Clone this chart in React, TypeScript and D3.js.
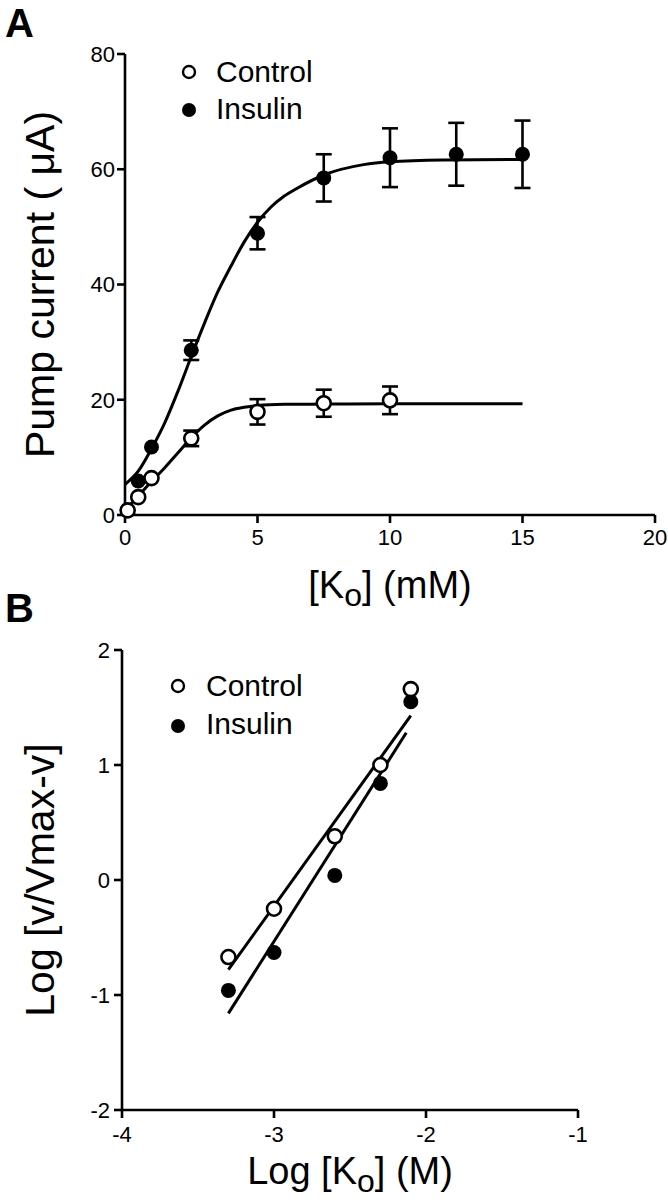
import React from "react";
import * as d3 from "d3";

// ---------- Panel A data ----------
const ctrlK = [0.1, 0.5, 1, 2.5, 5, 7.5, 10];
const ctrlI = [0.8, 3.1, 6.4, 13.3, 17.9, 19.4, 19.9];
const ctrlErr = [0, 0, 0, 1.35, 2.2, 2.35, 2.4];

const insK = [0.5, 1, 2.5, 5, 7.5, 10, 12.5, 15];
const insI = [5.9, 11.8, 28.6, 48.9, 58.5, 62.0, 62.6, 62.6];
const insErr = [0, 0, 1.7, 2.8, 4.1, 5.1, 5.45, 5.85];

// fitted curves
const ctrlFitK = [0, 0.5, 1, 1.5, 2, 2.5, 3, 3.5, 4, 4.5, 5, 6, 7.5, 10, 15];
const ctrlFitI = [0.8, 3.3, 5.8, 8.2, 10.8, 13.4, 15.6, 17.2, 18.2, 18.7, 19.0, 19.2, 19.25, 19.3, 19.3];
const insFitK = [0, 0.5, 1, 1.5, 2, 2.5, 3, 3.5, 4, 4.5, 5, 5.5, 6, 6.5, 7.5, 9, 10, 12, 15];
const insFitI = [5.3, 7.6, 11.5, 16, 21.5, 27.5, 33.3, 38.7, 43.2, 47.4, 50.8, 53.4, 55.3, 56.7, 59.0, 60.8, 61.3, 61.6, 61.7];

const xTicksA = [0, 5, 10, 15, 20];
const yTicksA = [0, 20, 40, 60, 80];

// ---------- Panel B data ----------
const logK = [-3.3, -3.0, -2.6, -2.3, -2.1];
const ctrlLog = [-0.67, -0.25, 0.38, 1.0, 1.66];
const insLog = [-0.96, -0.63, 0.04, 0.84, 1.55];
const ctrlLineX = [-3.3, -2.1];
const ctrlLineY = [-0.78, 1.43];
const insLineX = [-3.3, -2.13];
const insLineY = [-1.16, 1.28];

const xTicksB = [-4, -3, -2, -1];
const yTicksB = [-2, -1, 0, 1, 2];

const FONT = "'Liberation Sans', Arial, Helvetica, sans-serif";
const SW = 2.6;
const R = 7;

export default function App() {
  const xA = d3.scaleLinear().domain([0, 20]).range([125, 655]);
  const yA = d3.scaleLinear().domain([0, 80]).range([515, 54]);
  const xB = d3.scaleLinear().domain([-4, -1]).range([122, 578]);
  const yB = d3.scaleLinear().domain([-2, 2]).range([1110, 650]);

  const lineA = d3
    .line<[number, number]>()
    .x((d) => xA(d[0]))
    .y((d) => yA(d[1]))
    .curve(d3.curveMonotoneX);
  const lineB = d3
    .line<[number, number]>()
    .x((d) => xB(d[0]))
    .y((d) => yB(d[1]));

  const ctrlFit = ctrlFitK.map((k, i) => [k, ctrlFitI[i]] as [number, number]);
  const insFit = insFitK.map((k, i) => [k, insFitI[i]] as [number, number]);

  const errBars = (ks: number[], vs: number[], es: number[], key: string) =>
    ks.map((k, i) =>
      es[i] > 0 ? (
        <g key={key + i} stroke="#000" strokeWidth={SW}>
          <line x1={xA(k)} x2={xA(k)} y1={yA(vs[i] - es[i])} y2={yA(vs[i] + es[i])} />
          <line x1={xA(k) - 8} x2={xA(k) + 8} y1={yA(vs[i] - es[i])} y2={yA(vs[i] - es[i])} />
          <line x1={xA(k) - 8} x2={xA(k) + 8} y1={yA(vs[i] + es[i])} y2={yA(vs[i] + es[i])} />
        </g>
      ) : null
    );

  return (
    <svg
      width={668}
      height={1200}
      style={{ position: "absolute", left: 0, top: 0, background: "#fff" }}
      fontFamily={FONT}
    >
      <rect width={668} height={1200} fill="#fff" />
      {/* ===== Panel A ===== */}
      <text x={5} y={37} fontSize={40} fontWeight="bold">A</text>
      <line x1={125} x2={125} y1={yA(80)} y2={yA(0)} stroke="#000" strokeWidth={SW} />
      <line x1={125} x2={xA(20)} y1={yA(0)} y2={yA(0)} stroke="#000" strokeWidth={SW} />
      {yTicksA.map((t) => (
        <g key={"ya" + t}>
          <line x1={117} x2={125} y1={yA(t)} y2={yA(t)} stroke="#000" strokeWidth={SW} />
          <text x={115} y={yA(t)} dy="0.36em" textAnchor="end" fontSize={22}>{t}</text>
        </g>
      ))}
      {xTicksA.map((t) => (
        <g key={"xa" + t}>
          <line x1={xA(t)} x2={xA(t)} y1={yA(0)} y2={yA(0) + 8} stroke="#000" strokeWidth={SW} />
          <text x={xA(t)} y={545} textAnchor="middle" fontSize={22}>{t}</text>
        </g>
      ))}
      <text
        transform={`translate(54, ${(yA(0) + yA(80)) / 2}) rotate(-90)`}
        textAnchor="middle"
        fontSize={41}
      >
        Pump current ( μA)
      </text>
      <text x={390} y={598} textAnchor="middle" fontSize={38}>
        [K<tspan dy={8} fontSize={32}>o</tspan><tspan dy={-8}>] (mM)</tspan>
      </text>

      {/* curves */}
      <path d={lineA(insFit) || ""} fill="none" stroke="#000" strokeWidth={3} />
      <path d={lineA(ctrlFit) || ""} fill="none" stroke="#000" strokeWidth={3} />
      {errBars(insK, insI, insErr, "ie")}
      {errBars(ctrlK, ctrlI, ctrlErr, "ce")}
      {insK.map((k, i) => (
        <circle key={"ip" + i} cx={xA(k)} cy={yA(insI[i])} r={R + 0.5} fill="#000" />
      ))}
      {ctrlK.map((k, i) => (
        <circle key={"cp" + i} cx={xA(k)} cy={yA(ctrlI[i])} r={R} fill="#fff" stroke="#000" strokeWidth={SW} />
      ))}
      {/* legend */}
      <circle cx={189} cy={72} r={6} fill="#fff" stroke="#000" strokeWidth={2.4} />
      <text x={216} y={82} fontSize={30}>Control</text>
      <circle cx={189} cy={110} r={7} fill="#000" />
      <text x={216} y={119} fontSize={30}>Insulin</text>

      {/* ===== Panel B ===== */}
      <text x={5} y={622} fontSize={40} fontWeight="bold">B</text>
      <line x1={122} x2={122} y1={yB(2)} y2={yB(-2)} stroke="#000" strokeWidth={SW} />
      <line x1={122} x2={xB(-1)} y1={yB(-2)} y2={yB(-2)} stroke="#000" strokeWidth={SW} />
      {yTicksB.map((t) => (
        <g key={"yb" + t}>
          <line x1={114} x2={122} y1={yB(t)} y2={yB(t)} stroke="#000" strokeWidth={SW} />
          <text x={110} y={yB(t)} dy="0.36em" textAnchor="end" fontSize={22}>{t}</text>
        </g>
      ))}
      {xTicksB.map((t) => (
        <g key={"xb" + t}>
          <line x1={xB(t)} x2={xB(t)} y1={yB(-2)} y2={yB(-2) + 8} stroke="#000" strokeWidth={SW} />
          <text x={xB(t)} y={1142} textAnchor="middle" fontSize={22}>{t}</text>
        </g>
      ))}
      <text
        transform={`translate(54, ${(yB(2) + yB(-2)) / 2}) rotate(-90)`}
        textAnchor="middle"
        fontSize={41}
      >
        Log [v/Vmax-v]
      </text>
      <text x={350} y={1184} textAnchor="middle" fontSize={38}>
        Log [K<tspan dy={8} fontSize={32}>o</tspan><tspan dy={-8}>] (M)</tspan>
      </text>

      <path
        d={lineB(ctrlLineX.map((x, i) => [x, ctrlLineY[i]] as [number, number])) || ""}
        fill="none"
        stroke="#000"
        strokeWidth={3}
      />
      <path
        d={lineB(insLineX.map((x, i) => [x, insLineY[i]] as [number, number])) || ""}
        fill="none"
        stroke="#000"
        strokeWidth={3}
      />
      {logK.map((k, i) => (
        <circle key={"bi" + i} cx={xB(k)} cy={yB(insLog[i])} r={R + 0.5} fill="#000" />
      ))}
      {logK.map((k, i) => (
        <circle key={"bc" + i} cx={xB(k)} cy={yB(ctrlLog[i])} r={R} fill="#fff" stroke="#000" strokeWidth={SW} />
      ))}
      <circle cx={178} cy={686} r={6} fill="#fff" stroke="#000" strokeWidth={2.4} />
      <text x={206} y={696} fontSize={30}>Control</text>
      <circle cx={178} cy={726} r={7} fill="#000" />
      <text x={206} y={734} fontSize={30}>Insulin</text>
    </svg>
  );
}
